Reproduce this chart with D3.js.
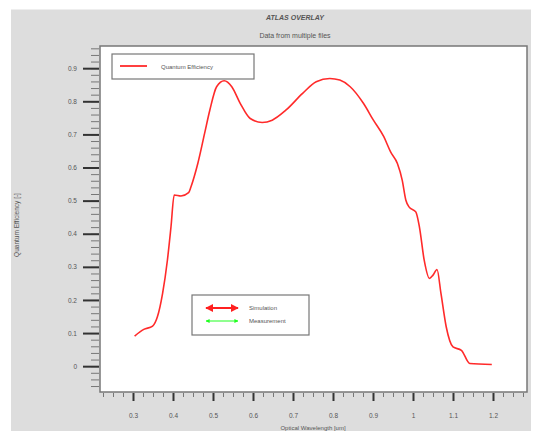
<!DOCTYPE html>
<html>
<head>
<meta charset="utf-8">
<script src="https://cdn.jsdelivr.net/npm/d3@7"></script>
<style>
  body { margin: 0; background: #fff; }
  text { font-family: "Liberation Sans", Arial, sans-serif; fill: #555; }
</style>
</head>
<body>
<div id="chart"></div>
<script>
// wavelength (um) and quantum efficiency
const wavelength = [0.304, 0.327, 0.349, 0.361, 0.374, 0.386, 0.395, 0.403, 0.42, 0.439, 0.445,
  0.462, 0.479, 0.492, 0.509, 0.528, 0.547, 0.568, 0.593, 0.623, 0.648, 0.682, 0.724, 0.758,
  0.792, 0.817, 0.843, 0.876, 0.901, 0.927, 0.944, 0.961, 0.973, 0.982, 0.99, 1.007, 1.016,
  1.028, 1.041, 1.05, 1.06, 1.07, 1.083, 1.1, 1.121, 1.142, 1.197];
const efficiency = [0.091, 0.111, 0.121, 0.149, 0.22, 0.32, 0.421, 0.517, 0.514, 0.524, 0.542,
  0.612, 0.703, 0.773, 0.844, 0.862, 0.844, 0.794, 0.748, 0.736, 0.743, 0.773, 0.824, 0.859,
  0.869, 0.864, 0.844, 0.794, 0.743, 0.693, 0.647, 0.612, 0.562, 0.502, 0.481, 0.466, 0.421,
  0.32, 0.265, 0.275, 0.292, 0.219, 0.119, 0.058, 0.048, 0.008, 0.005];
const xTicks = [0.3, 0.4, 0.5, 0.6, 0.7, 0.8, 0.9, 1, 1.1, 1.2];
const yTicks = [0, 0.1, 0.2, 0.3, 0.4, 0.5, 0.6, 0.7, 0.8, 0.9];
const legendTop = ["Quantum Efficiency"];
const legendBottom = ["Simulation", "Measurement"];
const legendBottomColors = ["#ff2020", "#20ff20"];

const width = 534, height = 431;
const plot = {left: 100, top: 46, right: 527, bottom: 392};

const svg = d3.select("#chart").append("svg")
    .attr("width", width)
    .attr("height", height);

// grey frame background
svg.append("rect")
    .attr("x", 11).attr("y", 9.5)
    .attr("width", 520).attr("height", height - 9.5)
    .attr("fill", "#dddddd");

svg.append("rect")
    .attr("x", plot.left).attr("y", plot.top)
    .attr("width", plot.right - plot.left).attr("height", plot.bottom - plot.top)
    .attr("fill", "#fff")
    .attr("stroke", "#777")
    .attr("stroke-width", 1.5);

const x = d3.scaleLinear().domain([0.2175, 1.285]).range([plot.left, plot.right]);
const y = d3.scaleLinear().domain([-0.078, 0.967]).range([plot.bottom, plot.top]);

// x axis: major + minor ticks below the frame
const xAxisMinor = d3.axisBottom(x)
    .tickValues(d3.range(0.225, 1.28, 0.025))
    .tickSize(4).tickFormat("");
const xAxisMajor = d3.axisBottom(x)
    .tickValues(xTicks)
    .tickSize(8).tickPadding(12)
    .tickFormat(d3.format(""));

svg.append("g").attr("transform", "translate(0," + (plot.bottom + 1) + ")")
    .call(xAxisMinor)
    .call(g => g.select(".domain").remove())
    .call(g => g.selectAll("line").attr("stroke", "#777"));
svg.append("g").attr("transform", "translate(0," + (plot.bottom + 1) + ")")
    .call(xAxisMajor)
    .call(g => g.select(".domain").remove())
    .call(g => g.selectAll("line").attr("stroke", "#333").attr("stroke-width", 2))
    .call(g => g.selectAll("text").attr("font-size", "6.5px").attr("fill", "#666"));

// y axis
const yAxisMinor = d3.axisLeft(y)
    .tickValues(d3.range(-0.06, 0.97, 0.02))
    .tickSize(8).tickFormat("");
const yAxisMajor = d3.axisLeft(y)
    .tickValues(yTicks)
    .tickSize(16).tickPadding(6)
    .tickFormat(d3.format(""));

svg.append("g").attr("transform", "translate(" + (plot.left - 1) + ",0)")
    .call(yAxisMinor)
    .call(g => g.select(".domain").remove())
    .call(g => g.selectAll("line").attr("stroke", "#777"));
svg.append("g").attr("transform", "translate(" + (plot.left - 1) + ",0)")
    .call(yAxisMajor)
    .call(g => g.select(".domain").remove())
    .call(g => g.selectAll("line").attr("stroke", "#333").attr("stroke-width", 2))
    .call(g => g.selectAll("text").attr("font-size", "6.5px").attr("fill", "#666"));

// titles
svg.append("text")
    .attr("x", 295).attr("y", 20)
    .attr("text-anchor", "middle")
    .attr("font-size", "7px")
    .attr("font-weight", "bold")
    .attr("font-style", "italic")
    .text("ATLAS OVERLAY");
svg.append("text")
    .attr("x", 295).attr("y", 38)
    .attr("text-anchor", "middle")
    .attr("font-size", "7px")
    .text("Data from multiple files");

svg.append("text")
    .attr("transform", "translate(19,225) rotate(-90)")
    .attr("text-anchor", "middle")
    .attr("font-size", "6.5px")
    .text("Quantum Efficiency [-]");

svg.append("text")
    .attr("x", 313).attr("y", 429.5)
    .attr("text-anchor", "middle")
    .attr("font-size", "6px")
    .text("Optical Wavelength [um]");

// the curve
const pts = wavelength.map((w, i) => [w, efficiency[i]]);
const line = d3.line()
    .x(d => x(d[0]))
    .y(d => y(d[1]))
    .curve(d3.curveMonotoneX);

svg.append("path")
    .datum(pts)
    .attr("d", line)
    .attr("fill", "none")
    .attr("stroke", "#ff2a2a")
    .attr("stroke-width", 1.6);

// top legend
const lg1 = svg.append("g");
lg1.append("rect")
    .attr("x", 112).attr("y", 54).attr("width", 142).attr("height", 25)
    .attr("fill", "#fff").attr("stroke", "#777").attr("stroke-width", 1.2);
lg1.selectAll("line").data(legendTop).join("line")
    .attr("x1", 120).attr("x2", 147).attr("y1", 66).attr("y2", 66)
    .attr("stroke", "#ff4040").attr("stroke-width", 2);
lg1.selectAll("text").data(legendTop).join("text")
    .attr("x", 161).attr("y", 68.5)
    .attr("font-size", "6px")
    .text(d => d);

// bottom legend
const defs = svg.append("defs");
legendBottomColors.forEach((c, i) => {
  defs.append("marker")
      .attr("id", "arr" + i)
      .attr("viewBox", "0 0 10 10")
      .attr("refX", 9).attr("refY", 5)
      .attr("markerWidth", 4).attr("markerHeight", 4)
      .attr("orient", "auto-start-reverse")
      .append("path").attr("d", "M0,0 L10,5 L0,10 z").attr("fill", c);
});

const lg2 = svg.append("g");
lg2.append("rect")
    .attr("x", 192).attr("y", 295).attr("width", 117).attr("height", 40)
    .attr("fill", "#fff").attr("stroke", "#777").attr("stroke-width", 1.2);
lg2.selectAll("line").data(legendBottom).join("line")
    .attr("x1", 206).attr("x2", 238)
    .attr("y1", (d, i) => 308 + i * 13).attr("y2", (d, i) => 308 + i * 13)
    .attr("stroke", (d, i) => legendBottomColors[i])
    .attr("stroke-width", (d, i) => i === 0 ? 2 : 1)
    .attr("marker-start", (d, i) => "url(#arr" + i + ")")
    .attr("marker-end", (d, i) => "url(#arr" + i + ")");
lg2.selectAll("text").data(legendBottom).join("text")
    .attr("x", 249).attr("y", (d, i) => 310 + i * 13)
    .attr("font-size", "6px")
    .text(d => d);
</script>
</body>
</html>
